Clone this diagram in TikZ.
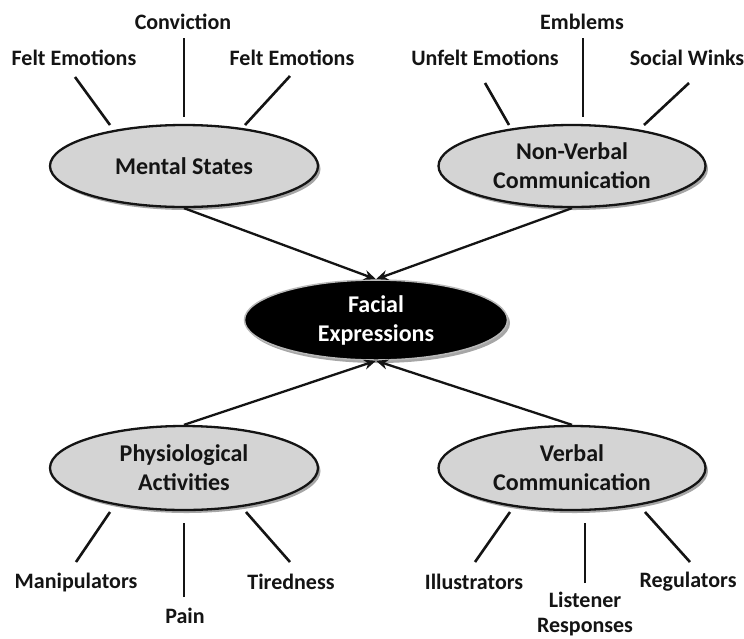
\documentclass[tikz,border=0pt]{standalone}
\usepackage{fontspec}
\setmainfont{Carlito}
\usetikzlibrary{shapes.geometric,arrows.meta,shadows}
\definecolor{ellfill}{RGB}{212,212,212}
\definecolor{ink}{RGB}{20,20,20}
\begin{document}
\begin{tikzpicture}[x=1pt,y=-1pt,
  oval/.style={ellipse, draw=ink, line width=2.3pt, fill=ellfill, inner sep=0pt,
    align=center, font=\fontsize{24}{29}\selectfont\bfseries, text=ink,
    drop shadow={shadow xshift=2.5pt, shadow yshift=-3pt, opacity=0.35, fill=black}},
  darkoval/.style={oval, fill=black, draw=gray!55, line width=1.5pt, text=white},
  lbl/.style={inner sep=0pt, align=center, font=\fontsize{22}{25}\selectfont\bfseries, text=ink},
  spoke/.style={line width=2.6pt, draw=ink},
  arr/.style={line width=2.3pt, draw=ink, -{Stealth[length=12pt,width=10pt]}}]
\useasboundingbox (0,0) rectangle (744,638);
\fill[white] (0,0) rectangle (744,638);

% ellipses
\node[oval, minimum width=268pt, minimum height=82pt] (ms) at (184,166) {Mental States};
\node[oval, minimum width=267pt, minimum height=82pt] (nv) at (572,166) {Non-Verbal\\Communication};
\node[darkoval, minimum width=263pt, minimum height=80pt] (fe) at (376,320) {Facial\\Expressions};
\node[oval, minimum width=268pt, minimum height=84pt] (ph) at (184,468) {Physiological\\Activities};
\node[oval, minimum width=267pt, minimum height=84pt] (vb) at (572,468) {Verbal\\Communication};

% labels
\node[lbl] (l1) at (74,58) {Felt Emotions};
\node[lbl] (l2) at (183,22) {Conviction};
\node[lbl] (l3) at (292,58) {Felt Emotions};
\node[lbl] (l4) at (485,58) {Unfelt Emotions};
\node[lbl] (l5) at (582,22) {Emblems};
\node[lbl] (l6) at (687,58) {Social Winks};
\node[lbl] (l7) at (76,582) {Manipulators};
\node[lbl] (l8) at (185,616) {Pain};
\node[lbl] (l9) at (291,582) {Tiredness};
\node[lbl] (l10) at (474,582) {Illustrators};
\node[lbl] (l11) at (585,614) {Listener\\Responses};
\node[lbl] (l12) at (688,582) {Regulators};

% spoke end points
\coordinate (a1) at (75,77);   \coordinate (b1) at (110,125);
\coordinate (a2) at (184,38);  \coordinate (b2) at (184,117);
\coordinate (a3) at (290,76);  \coordinate (b3) at (245,125);
\coordinate (a4) at (485,83);  \coordinate (b4) at (509,125);
\coordinate (a5) at (583,38);  \coordinate (b5) at (583,117);
\coordinate (a6) at (689,83);  \coordinate (b6) at (644,125);
\coordinate (a7) at (76,562);  \coordinate (b7) at (110,512);
\coordinate (a8) at (184,597); \coordinate (b8) at (184,523);
\coordinate (a9) at (290,562); \coordinate (b9) at (246,512);
\coordinate (a10) at (475,562); \coordinate (b10) at (510,512);
\coordinate (a11) at (585,583); \coordinate (b11) at (585,523);
\coordinate (a12) at (690,562); \coordinate (b12) at (645,512);
\foreach \i in {1,...,12} {\draw[spoke] (a\i) -- (b\i);}

% arrows
\draw[arr] (ms.south) -- (fe.north);
\draw[arr] (nv.south) -- (fe.north);
\draw[arr] (ph.north) -- (fe.south);
\draw[arr] (vb.north) -- (fe.south);
\end{tikzpicture}
\end{document}
